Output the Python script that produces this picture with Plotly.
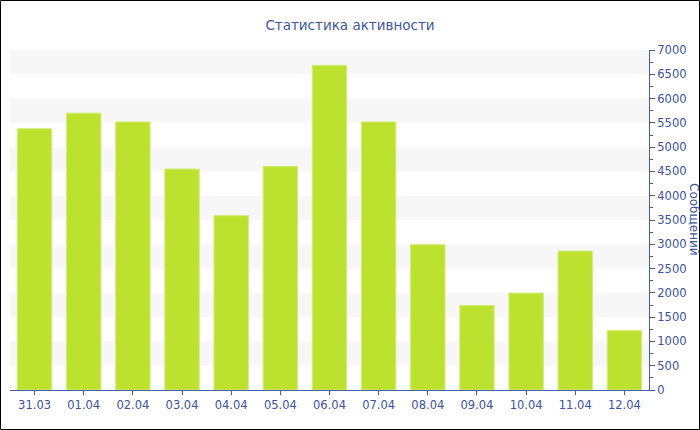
import plotly.graph_objects as go

categories = ["31.03", "01.04", "02.04", "03.04", "04.04", "05.04", "06.04",
              "07.04", "08.04", "09.04", "10.04", "11.04", "12.04"]
messages = [5380, 5700, 5520, 4550, 3590, 4605, 6685, 5520, 2990, 1740, 1995, 2860, 1225]
y_ticks = list(range(0, 7001, 500))
band_ranges = [(500, 1000), (1500, 2000), (2500, 3000), (3500, 4000),
               (4500, 5000), (5500, 6000), (6500, 7000)]

W, H = 700, 430
ml, mr, mt, mb = 10, 51, 50, 40
pw, ph = W - ml - mr, H - mt - mb

axis_color = "#4a5ca3"
text_color = "#3d52a1"

fig = go.Figure(go.Bar(
    x=categories, y=messages,
    marker=dict(color="#bce22f", line=dict(color="#d2ec7a", width=1)),
    hoverinfo="x+y",
))

shapes = []
for lo, hi in band_ranges:
    shapes.append(dict(type="rect", xref="paper", yref="y", x0=0, x1=1,
                       y0=lo, y1=hi, fillcolor="#f7f7f7", line=dict(width=0),
                       layer="below"))
# outer border
shapes.append(dict(type="rect", xref="paper", yref="paper",
                   x0=(0.5 - ml) / pw, x1=(W - 0.5 - ml) / pw,
                   y0=-(mb - 0.5) / ph, y1=1 + (mt - 0.5) / ph,
                   line=dict(color="black", width=1), fillcolor="rgba(0,0,0,0)"))

fig.update_layout(
    width=W, height=H,
    margin=dict(l=ml, r=mr, t=mt, b=mb, pad=0, autoexpand=False),
    paper_bgcolor="white", plot_bgcolor="white",
    font=dict(family="DejaVu Sans", size=12, color=text_color),
    title=dict(text="Статистика активности", x=(350 - ml) / pw, xref="paper",
               xanchor="center", y=1 - 25 / H, yanchor="middle",
               font=dict(family="DejaVu Sans", size=13.5, color="#3d57a5")),
    bargap=0.3,
    showlegend=False,
    shapes=shapes,
    xaxis=dict(showline=True, linecolor=axis_color, linewidth=1,
               ticks="outside", ticklen=4, tickcolor=axis_color,
               tickfont=dict(size=11.5, color=text_color),
               showgrid=False, zeroline=False, fixedrange=True),
    yaxis=dict(side="right", range=[0, 7000], tickvals=y_ticks,
               showline=True, linecolor=axis_color, linewidth=1,
               ticks="outside", ticklen=5, tickcolor=axis_color,
               minor=dict(dtick=250, ticks="outside", ticklen=3, tickcolor=axis_color),
               tickfont=dict(size=11.5, color=text_color),
               showgrid=False, zeroline=False, fixedrange=True),
    annotations=[dict(text="Сообщений", xref="paper", yref="paper",
                      x=(694 - ml) / pw, y=(390 - 220) / ph,
                      xanchor="center", yanchor="middle", textangle=90,
                      showarrow=False,
                      font=dict(family="DejaVu Sans", size=12, color=text_color))],
)

fig.write_html("out.html", config={"displayModeBar": False},
               post_script="document.body.style.margin='0';document.body.style.overflow='hidden';")
